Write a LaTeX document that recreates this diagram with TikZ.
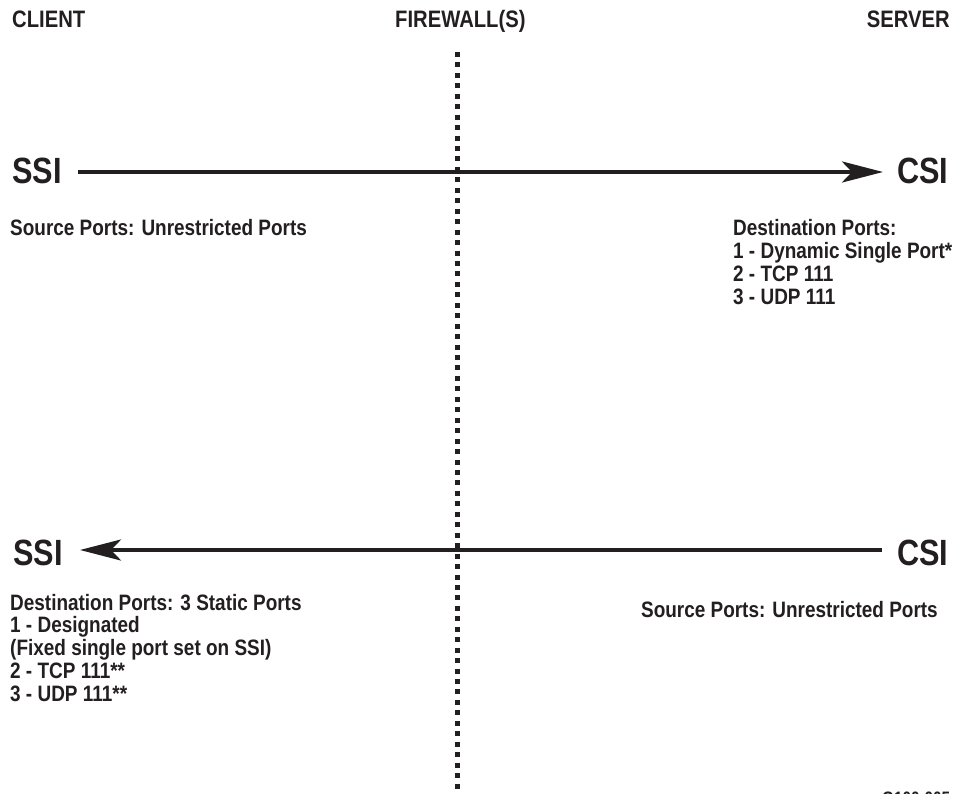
\documentclass[tikz,border=0pt]{standalone}
\usepackage{fontspec}
\setmainfont{Liberation Sans}[FakeStretch=0.85]
\newfontfamily\bigfam{Liberation Sans}[FakeStretch=0.84]
\usetikzlibrary{arrows.meta}
\definecolor{ink}{RGB}{35,31,32}
\newcommand{\headtxt}{\fontsize{23.8}{26}\selectfont\bfseries}
\newcommand{\bigtxt}{\bigfam\fontsize{36.5}{40}\selectfont\bfseries}
\newcommand{\smalltxt}{\fontsize{22.3}{22.7}\selectfont\bfseries}
\begin{document}
\begin{tikzpicture}[x=1pt,y=-1pt,
  lbl/.style={inner sep=0pt, text=ink},
  head/.style={lbl, font=\headtxt},
  big/.style={lbl, font=\bigtxt},
  small/.style={lbl, font=\smalltxt},
  flow/.style={draw=ink, line width=4pt, -{Stealth[length=41pt, width=21pt, inset=10pt]}},
  wall/.style={draw=ink, line width=5pt, dash pattern=on 5pt off 5.45pt}]
\useasboundingbox (0,0) rectangle (956,794);
% headings
\node[head, anchor=base west] (client) at (12,28) {CLIENT};
\node[head, anchor=base west] (fw) at (395,28) {FIREWALL(S)};
\node[head, anchor=base east] (server) at (950,28) {SERVER};
% firewall line
\coordinate (fwtop) at (457.5,52);
\coordinate (fwbot) at (457.5,800);
\path[wall] (fwtop) -- (fwbot);
% top flow
\node[big, anchor=base west] (ssiA) at (12,184) {SSI};
\node[big, anchor=base west] (csiA) at (897,184) {CSI};
\coordinate (a1s) at (78,172);
\coordinate (a1e) at (883,172);
\path[flow] (a1s) -- (a1e);
\node[small, anchor=base west] (srcA) at (10,236) {Source Ports: Unrestricted Ports};
\node[small, anchor=base west] (dstA) at (733,236) {\begin{tabular}[t]{@{}l@{}}Destination Ports:\\ 1 - Dynamic Single Port*\\ 2 - TCP 111\\ 3 - UDP 111\end{tabular}};
% bottom flow
\node[big, anchor=base west] (ssiB) at (13,565) {SSI};
\node[big, anchor=base west] (csiB) at (897,565) {CSI};
\coordinate (a2s) at (882,550);
\coordinate (a2e) at (80,550);
\path[flow] (a2s) -- (a2e);
\node[small, anchor=base west] (dstB) at (10,610) {\begin{tabular}[t]{@{}l@{}}Destination Ports: 3 Static Ports\\ 1 - Designated\\ (Fixed single port set on SSI)\\ 2 - TCP 111**\\ 3 - UDP 111**\end{tabular}};
\node[small, anchor=base east] (srcB) at (938,617) {Source Ports: Unrestricted Ports};
% figure id (cut off at bottom, as in the reference)
\node[lbl, font=\fontsize{18}{20}\selectfont\bfseries, anchor=base west] (figid) at (882,804) {G100-005};
\end{tikzpicture}
\end{document}
